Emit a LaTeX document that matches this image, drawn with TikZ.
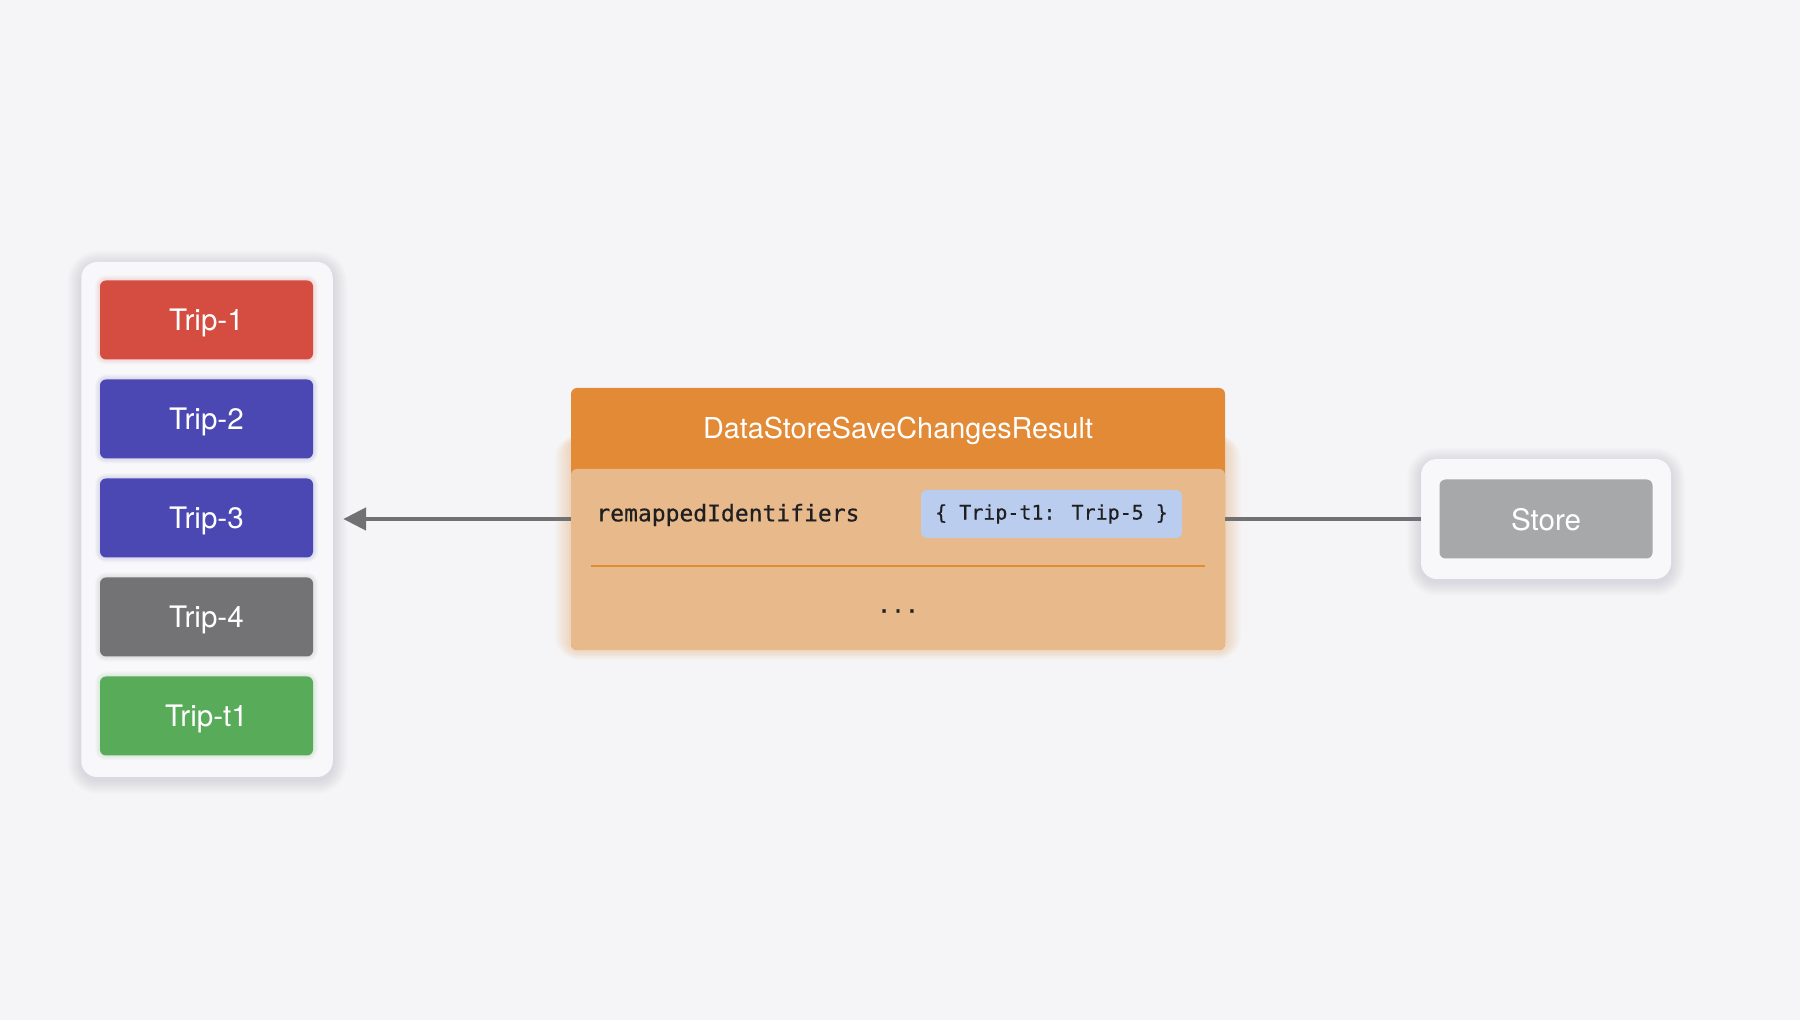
\documentclass[tikz,border=0pt]{standalone}
\usepackage{fontspec}
\setmainfont{TeX Gyre Heros}
\newfontfamily\monof[FakeBold=0.5]{DejaVu Sans Mono}
\usetikzlibrary{arrows.meta}
\definecolor{bgc}{HTML}{F5F5F7}
\definecolor{panelc}{HTML}{F8F8FA}
\definecolor{shadc}{HTML}{9A9AA8}
\definecolor{redc}{HTML}{D54C40}
\definecolor{bluec}{HTML}{4B48B4}
\definecolor{grayc}{HTML}{737375}
\definecolor{greenc}{HTML}{58AB59}
\definecolor{headc}{HTML}{E28A36}
\definecolor{bodyc}{HTML}{E7B98B}
\definecolor{pillc}{HTML}{BACDEE}
\definecolor{storec}{HTML}{A7A8AA}
\definecolor{linec}{HTML}{717173}
\definecolor{monoc}{HTML}{1F1F21}
\begin{document}
\begin{tikzpicture}[x=0.5pt,y=-0.5pt,
  panel/.style={rectangle, rounded corners=8pt, fill=panelc, inner sep=0pt},
  trip/.style={rectangle, rounded corners=3pt, minimum width=106.5pt, minimum height=39.5pt,
    inner sep=0pt, text=white, text depth=0pt, font=\fontsize{14.8}{16}\selectfont},
  mono/.style={font=\monof\fontsize{11.5}{13}\selectfont, text=monoc, inner sep=0pt},
  conn/.style={draw=linec, line width=2.4pt},
]
\fill[bgc] (0,0) rectangle (1800,1020);
\useasboundingbox (0,0) rectangle (1800,1020);

% soft shadows behind the two panels
\foreach \g in {1,2,...,14}{
  \fill[shadc, opacity=0.014, rounded corners=8pt+\g*0.5pt]
    (81.5-\g,262-\g+3) rectangle (333+\g,777+\g+3);
  \fill[shadc, opacity=0.014, rounded corners=8pt+\g*0.5pt]
    (1421-\g,459-\g+3) rectangle (1671+\g,579+\g+3);
}

% left container with trips
\node[panel, minimum width=125.75pt, minimum height=257.5pt] (cont) at (207,519.5) {};
% faint coloured glows of the trip boxes
\foreach \y/\c in {320/redc,419/bluec,518/bluec,617/grayc,716/greenc}{
  \foreach \g in {1,2,...,5}{
    \fill[\c, opacity=0.03, rounded corners=3pt+\g*0.5pt]
      (100-\g,\y-39.5-\g) rectangle (313+\g,\y+39.5+\g);
  }
}
\node[trip, fill=redc]   (t1)  at (206.5,320) {Trip-1};
\node[trip, fill=bluec]  (t2)  at (206.5,419) {Trip-2};
\node[trip, fill=bluec]  (t3)  at (206.5,518) {Trip-3};
\node[trip, fill=grayc]  (t4)  at (206.5,617) {Trip-4};
\node[trip, fill=greenc] (tt1) at (206.5,716) {Trip-t1};

% main result box: glow
\foreach \g in {2,4,...,16}{
  \fill[headc, opacity=0.035, rounded corners=4pt+\g*0.5pt]
    (571-\g,440-\g*0.3) rectangle (1225+\g,650+\g*0.6);
}
\node[rectangle, rounded corners=3pt, fill=headc, minimum width=327pt, minimum height=131pt, inner sep=0pt] (main) at (898,519) {};
\node[rectangle, rounded corners=3pt, fill=bodyc, minimum width=327pt, minimum height=90.5pt, inner sep=0pt] (body) at (898,559.5) {};
\node[text=white, text depth=0pt, font=\fontsize{14.4}{16}\selectfont, inner sep=0pt] (title) at (898,428) {DataStoreSaveChangesResult};
\node[mono, anchor=west] (rid) at (596,515) {remappedIdentifiers};
\node[rectangle, rounded corners=3pt, fill=pillc, minimum width=130.5pt, minimum height=24pt, inner sep=0pt,
  font=\monof\fontsize{10}{12}\selectfont, text=monoc] (pill) at (1051.5,514) {\{ Trip-t1: Trip-5 \}};
\coordinate (sepL) at (591,566);
\coordinate (sepR) at (1205,566);
\draw[headc, line width=1pt] (sepL) -- (sepR);
\node[mono] (dots) at (898,611) {...};

% store
\node[panel, minimum width=125pt, minimum height=60pt] (storeo) at (1546,519) {};
\node[trip, fill=storec] (store) at (1546,519) {Store};

% connectors
\draw[conn, -{Triangle[length=11.5pt,width=11pt]}, shorten >=5pt] (main.west) -- (main.west -| cont.east);
\draw[conn] (main.east) -- (storeo.west);
\end{tikzpicture}
\end{document}
